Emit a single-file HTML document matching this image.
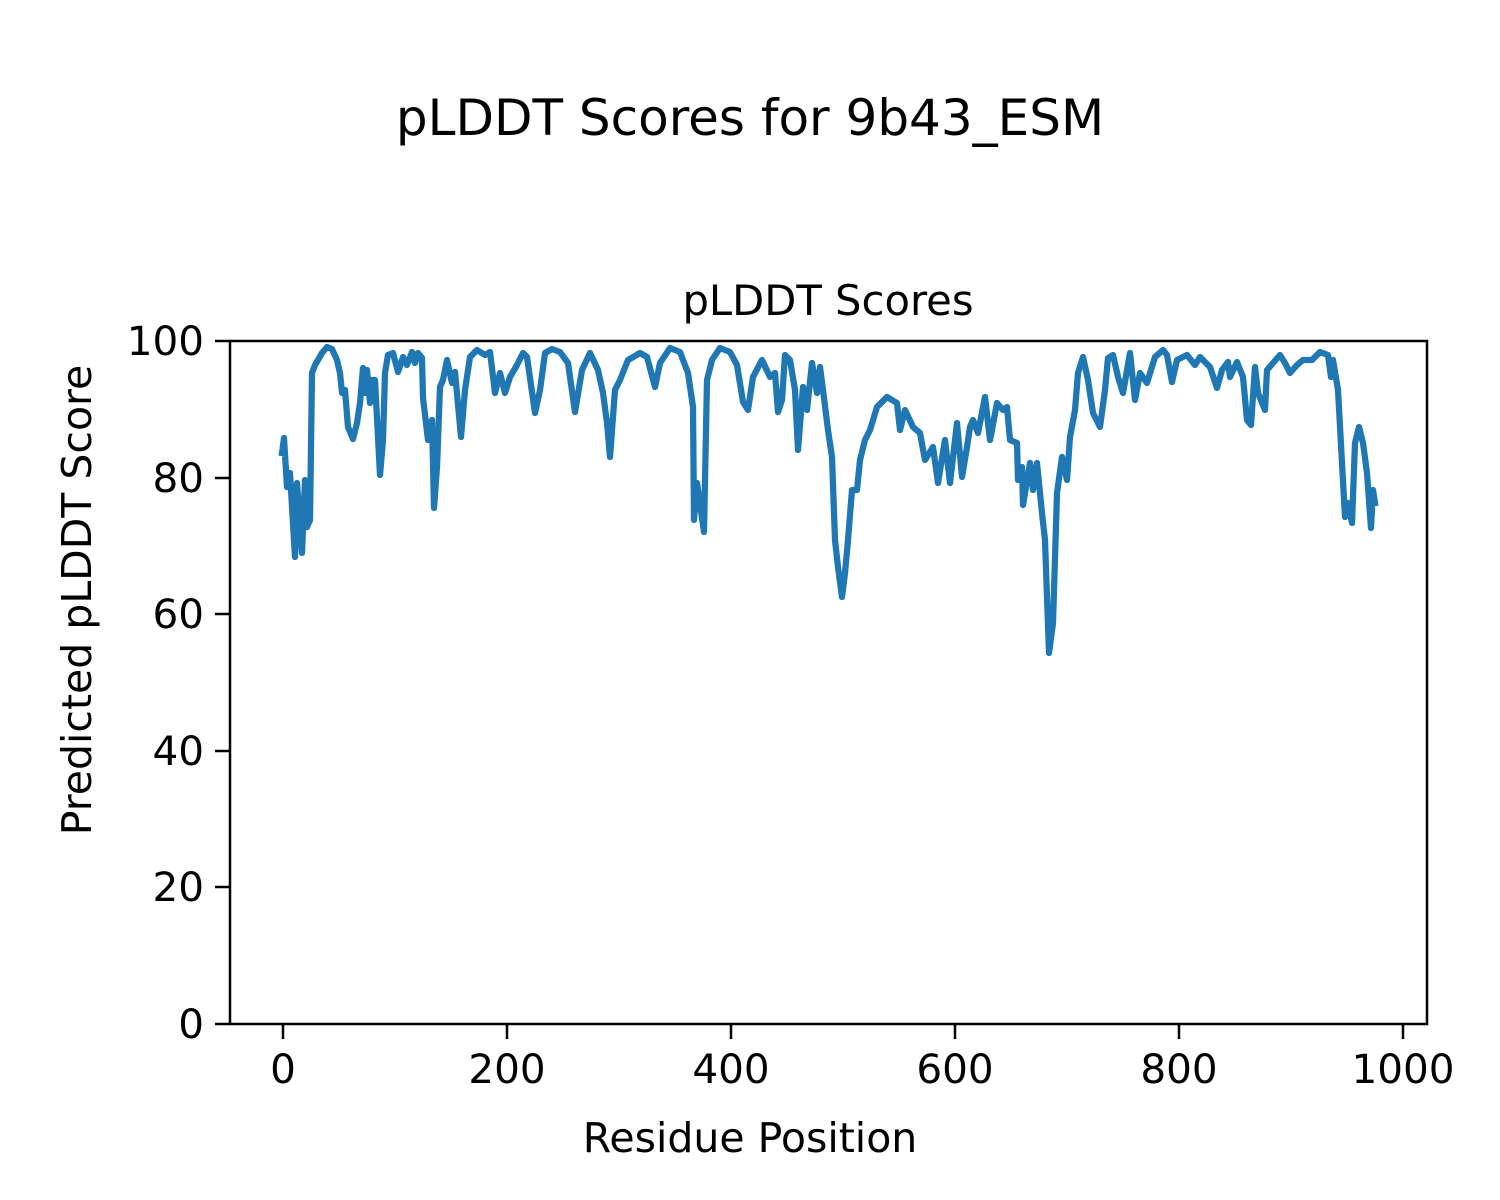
<!DOCTYPE html>
<html><head><meta charset="utf-8"><style>body{margin:0;background:#fff}svg{display:block}</style></head>
<body>
<svg width="1500" height="1200" xmlns="http://www.w3.org/2000/svg" font-family="DejaVu Sans, sans-serif">
<rect width="1500" height="1200" fill="#fff"/>
<text x="750" y="135" font-size="50" text-anchor="middle">pLDDT Scores for 9b43_ESM</text>
<text x="828" y="315" font-size="41.7" text-anchor="middle">pLDDT Scores</text>
<polyline fill="none" stroke="#1f77b4" stroke-width="6.25" stroke-linejoin="round" stroke-linecap="square" points="282,453 284,438 287,487 290,473 295,557 297,483 302,553 305,480 307,527 310,520 312,373 315,365 318,360 322,353 327,347 332,349 337,360 340,373 342,393 345,390 348,427 353,439 357,423 360,403 363,368 365,393 367,370 370,403 372,380 375,380 380,475 383,440 385,373 388,355 393,353 398,372 403,357 407,365 412,352 415,363 418,353 422,358 423,398 428,440 432,420 434,508 437,467 440,387 443,380 447,360 452,383 455,372 461,437 465,390 470,357 477,350 485,355 490,352 495,393 500,373 505,393 510,377 517,365 523,353 527,357 535,413 540,390 545,353 552,349 560,352 568,363 575,412 582,370 590,353 598,370 603,393 607,423 610,457 615,390 620,380 628,360 640,353 647,357 655,387 660,363 670,348 680,352 688,373 693,407 694,520 697,483 704,532 707,380 712,360 720,348 730,352 737,365 743,402 748,410 753,377 762,360 770,377 775,373 778,412 782,400 785,355 790,360 795,390 798,450 803,387 807,410 812,363 817,393 820,367 823,390 828,430 832,457 835,540 838,567 842,597 845,573 848,540 852,490 857,490 860,460 865,440 870,430 877,407 887,397 897,403 900,430 905,410 913,427 920,433 925,460 933,447 938,483 945,440 950,483 957,423 962,477 967,447 970,427 973,420 978,433 985,397 990,440 997,403 1003,410 1007,407 1010,440 1017,443 1018,480 1022,467 1023,505 1030,463 1033,490 1037,463 1042,513 1045,540 1049,653 1053,623 1057,493 1062,457 1067,480 1070,437 1075,410 1078,373 1083,357 1088,380 1093,413 1100,427 1105,390 1108,358 1113,355 1118,377 1123,393 1130,353 1135,400 1140,373 1147,383 1155,357 1163,350 1167,355 1172,382 1177,360 1187,355 1195,365 1200,357 1210,367 1217,388 1222,370 1228,362 1230,377 1237,362 1243,377 1247,420 1251,425 1255,367 1258,393 1265,410 1267,370 1273,363 1280,355 1285,363 1290,373 1297,365 1303,360 1312,360 1320,352 1328,355 1331,377 1333,360 1338,390 1342,463 1345,517 1348,503 1352,523 1355,443 1359,427 1363,443 1367,473 1371,528 1373,490 1375,503"/>
<rect x="230" y="341" width="1197" height="683" fill="none" stroke="#000" stroke-width="2.5"/>
<g stroke="#000" stroke-width="2.5">
<line x1="283" y1="1024" x2="283" y2="1039"/><line x1="507" y1="1024" x2="507" y2="1039"/><line x1="731" y1="1024" x2="731" y2="1039"/><line x1="955" y1="1024" x2="955" y2="1039"/><line x1="1179" y1="1024" x2="1179" y2="1039"/><line x1="1403" y1="1024" x2="1403" y2="1039"/>
<line x1="215" y1="1024" x2="230" y2="1024"/><line x1="215" y1="887" x2="230" y2="887"/><line x1="215" y1="751" x2="230" y2="751"/><line x1="215" y1="614" x2="230" y2="614"/><line x1="215" y1="478" x2="230" y2="478"/><line x1="215" y1="341" x2="230" y2="341"/>
</g>
<g font-size="40.5" text-anchor="middle">
<text x="283" y="1083">0</text><text x="507" y="1083">200</text><text x="731" y="1083">400</text><text x="955" y="1083">600</text><text x="1179" y="1083">800</text><text x="1403" y="1083">1000</text>
</g>
<g font-size="40.5" text-anchor="end">
<text x="204" y="1038">0</text><text x="204" y="901">20</text><text x="204" y="765">40</text><text x="204" y="628">60</text><text x="204" y="492">80</text><text x="204" y="355">100</text>
</g>
<text x="750" y="1152" font-size="41" text-anchor="middle">Residue Position</text>
<text transform="translate(91,600) rotate(-90)" font-size="41" text-anchor="middle">Predicted pLDDT Score</text>
</svg>
</body></html>
